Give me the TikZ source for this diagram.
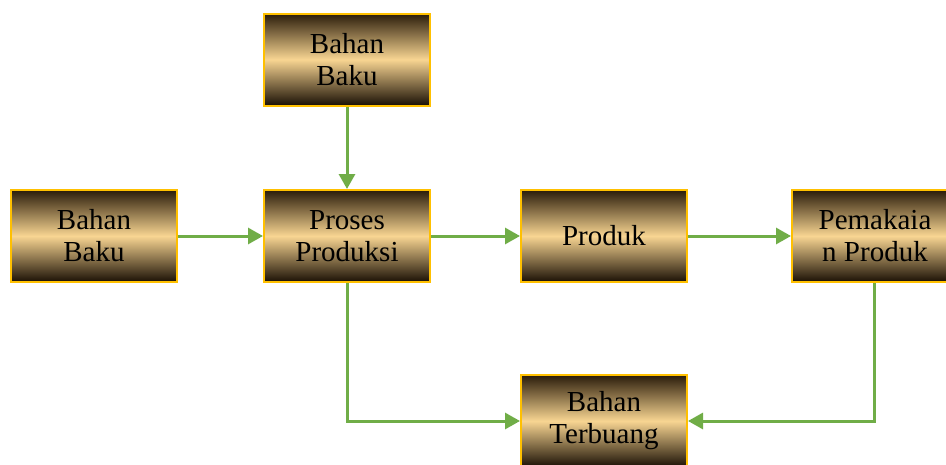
\documentclass[tikz,border=0pt]{standalone}
\usepackage{fontspec}
\setmainfont{Liberation Serif}
\usetikzlibrary{arrows.meta}
\definecolor{boxedge}{HTML}{FFC000}
\definecolor{darktop}{HTML}{2A1C0A}
\definecolor{lightmid}{HTML}{F8D592}
\definecolor{darkbot}{HTML}{1A1005}
\definecolor{flow}{HTML}{70AD47}
\tikzset{
  gbox/.style={rectangle, draw=boxedge, line width=2pt,
    minimum width=166pt, minimum height=92pt, inner sep=0pt,
    top color=darktop, bottom color=darkbot, middle color=lightmid,
    align=center, font=\fontsize{29}{32}\selectfont, text=black},
  flowline/.style={draw=flow, line width=3pt,
    -{Triangle[length=15pt,width=16pt]}}
}
\begin{document}
\begin{tikzpicture}[x=1pt,y=-1pt]
\clip (0,0) rectangle (946,464);
\fill[white] (0,0) rectangle (946,464);
\node[gbox] (raw1) at (347,59.5) {Bahan\\Baku};
\node[gbox] (raw2) at (94,236) {Bahan\\Baku};
\node[gbox] (proc) at (347,236) {Proses\\Produksi};
\node[gbox] (prod) at (604,236) {Produk};
\node[gbox] (use) at (875,236) {Pemakaia\\n Produk};
\node[gbox] (waste) at (604,421) {Bahan\\Terbuang};
\draw[flowline] (raw1) -- (proc);
\draw[flowline] (raw2) -- (proc);
\draw[flowline] (proc) -- (prod);
\draw[flowline] (prod) -- (use);
\draw[flowline] (proc.south) |- (waste.west);
\draw[flowline] ([xshift=-1pt]use.south) |- (waste.east);
\end{tikzpicture}
\end{document}
